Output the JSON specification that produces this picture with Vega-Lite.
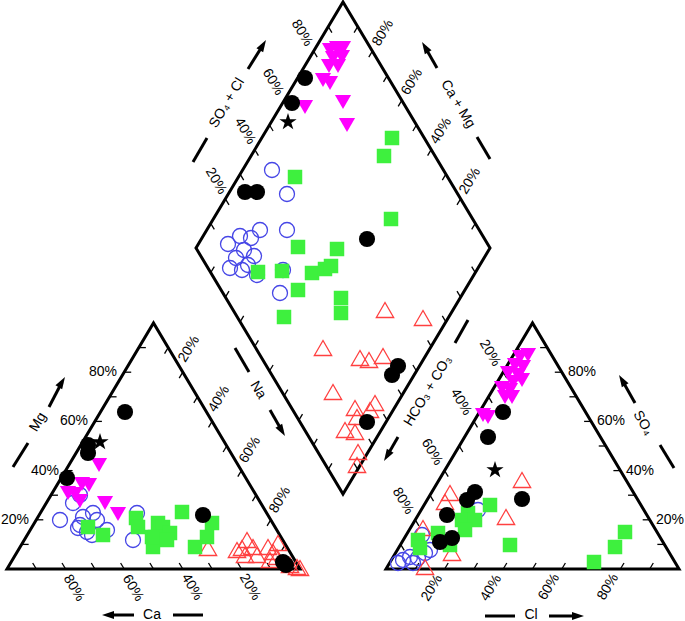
{
"$schema": "https://vega.github.io/schema/vega-lite/v6.json",
"width": 685, "height": 621,
"autosize": {"type": "none"},
"padding": 0,
"background": "white",
"config": {"view": {"stroke": null}, "text": {"font": "Liberation Sans", "fontSize": 14, "color": "black"}},
"datasets": {
"outline": [
{"part":"cation","i":0,"x":153.5,"y":569},{"part":"cation","i":1,"x":300,"y":569},{"part":"cation","i":2,"x":153.5,"y":323},{"part":"cation","i":3,"x":7,"y":569},{"part":"cation","i":4,"x":153.5,"y":569},
{"part":"anion","i":0,"x":532.5,"y":569},{"part":"anion","i":1,"x":679,"y":569},{"part":"anion","i":2,"x":532.5,"y":323},{"part":"anion","i":3,"x":386,"y":569},{"part":"anion","i":4,"x":532.5,"y":569},
{"part":"diamond","i":0,"x":269.5,"y":125},{"part":"diamond","i":1,"x":343,"y":2},{"part":"diamond","i":2,"x":490,"y":248},{"part":"diamond","i":3,"x":343,"y":494},{"part":"diamond","i":4,"x":196,"y":248},{"part":"diamond","i":5,"x":269.5,"y":125}
],
"ticks": [
{"x":36.3,"y":569,"x2":32.7,"y2":563},{"x":65.6,"y":569,"x2":62,"y2":563},{"x":94.9,"y":569,"x2":91.3,"y2":563},{"x":124.2,"y":569,"x2":120.6,"y2":563},{"x":153.5,"y":569,"x2":149.9,"y2":563},{"x":182.8,"y":569,"x2":179.2,"y2":563},{"x":212.1,"y":569,"x2":208.5,"y2":563},{"x":241.4,"y":569,"x2":237.8,"y2":563},{"x":270.7,"y":569,"x2":267.1,"y2":563},
{"x":21.65,"y":544.4,"x2":28.65,"y2":544.4},{"x":36.3,"y":519.8,"x2":43.3,"y2":519.8},{"x":50.95,"y":495.2,"x2":57.95,"y2":495.2},{"x":65.6,"y":470.6,"x2":72.6,"y2":470.6},{"x":80.25,"y":446,"x2":87.25,"y2":446},{"x":94.9,"y":421.4,"x2":101.9,"y2":421.4},{"x":109.55,"y":396.8,"x2":116.55,"y2":396.8},{"x":124.2,"y":372.2,"x2":131.2,"y2":372.2},{"x":138.85,"y":347.6,"x2":145.85,"y2":347.6},
{"x":285.35,"y":544.4,"x2":281.75,"y2":550.4},{"x":270.7,"y":519.8,"x2":267.1,"y2":525.8},{"x":256.05,"y":495.2,"x2":252.45,"y2":501.2},{"x":241.4,"y":470.6,"x2":237.8,"y2":476.6},{"x":226.75,"y":446,"x2":223.15,"y2":452},{"x":212.1,"y":421.4,"x2":208.5,"y2":427.4},{"x":197.45,"y":396.8,"x2":193.85,"y2":402.8},{"x":182.8,"y":372.2,"x2":179.2,"y2":378.2},{"x":168.15,"y":347.6,"x2":164.55,"y2":353.6},
{"x":415.3,"y":569,"x2":418.9,"y2":563},{"x":444.6,"y":569,"x2":448.2,"y2":563},{"x":473.9,"y":569,"x2":477.5,"y2":563},{"x":503.2,"y":569,"x2":506.8,"y2":563},{"x":532.5,"y":569,"x2":536.1,"y2":563},{"x":561.8,"y":569,"x2":565.4,"y2":563},{"x":591.1,"y":569,"x2":594.7,"y2":563},{"x":620.4,"y":569,"x2":624,"y2":563},{"x":649.7,"y":569,"x2":653.3,"y2":563},
{"x":400.65,"y":544.4,"x2":404.25,"y2":550.4},{"x":415.3,"y":519.8,"x2":418.9,"y2":525.8},{"x":429.95,"y":495.2,"x2":433.55,"y2":501.2},{"x":444.6,"y":470.6,"x2":448.2,"y2":476.6},{"x":459.25,"y":446,"x2":462.85,"y2":452},{"x":473.9,"y":421.4,"x2":477.5,"y2":427.4},{"x":488.55,"y":396.8,"x2":492.15,"y2":402.8},{"x":503.2,"y":372.2,"x2":506.8,"y2":378.2},{"x":517.85,"y":347.6,"x2":521.45,"y2":353.6},
{"x":664.35,"y":544.4,"x2":657.35,"y2":544.4},{"x":649.7,"y":519.8,"x2":642.7,"y2":519.8},{"x":635.05,"y":495.2,"x2":628.05,"y2":495.2},{"x":620.4,"y":470.6,"x2":613.4,"y2":470.6},{"x":605.75,"y":446,"x2":598.75,"y2":446},{"x":591.1,"y":421.4,"x2":584.1,"y2":421.4},{"x":576.45,"y":396.8,"x2":569.45,"y2":396.8},{"x":561.8,"y":372.2,"x2":554.8,"y2":372.2},{"x":547.15,"y":347.6,"x2":540.15,"y2":347.6},
{"x":210.7,"y":223.4,"x2":214.3,"y2":229.4},{"x":225.4,"y":198.8,"x2":229,"y2":204.8},{"x":240.1,"y":174.2,"x2":243.7,"y2":180.2},{"x":254.8,"y":149.6,"x2":258.4,"y2":155.6},{"x":269.5,"y":125,"x2":273.1,"y2":131},{"x":284.2,"y":100.4,"x2":287.8,"y2":106.4},{"x":298.9,"y":75.8,"x2":302.5,"y2":81.8},{"x":313.6,"y":51.2,"x2":317.2,"y2":57.2},{"x":328.3,"y":26.6,"x2":331.9,"y2":32.6},
{"x":475.3,"y":223.4,"x2":471.7,"y2":229.4},{"x":460.6,"y":198.8,"x2":457,"y2":204.8},{"x":445.9,"y":174.2,"x2":442.3,"y2":180.2},{"x":431.2,"y":149.6,"x2":427.6,"y2":155.6},{"x":416.5,"y":125,"x2":412.9,"y2":131},{"x":401.8,"y":100.4,"x2":398.2,"y2":106.4},{"x":387.1,"y":75.8,"x2":383.5,"y2":81.8},{"x":372.4,"y":51.2,"x2":368.8,"y2":57.2},{"x":357.7,"y":26.6,"x2":354.1,"y2":32.6},
{"x":210.7,"y":272.6,"x2":214.3,"y2":266.6},{"x":225.4,"y":297.2,"x2":229,"y2":291.2},{"x":240.1,"y":321.8,"x2":243.7,"y2":315.8},{"x":254.8,"y":346.4,"x2":258.4,"y2":340.4},{"x":269.5,"y":371,"x2":273.1,"y2":365},{"x":284.2,"y":395.6,"x2":287.8,"y2":389.6},{"x":298.9,"y":420.2,"x2":302.5,"y2":414.2},{"x":313.6,"y":444.8,"x2":317.2,"y2":438.8},{"x":328.3,"y":469.4,"x2":331.9,"y2":463.4},
{"x":475.3,"y":272.6,"x2":471.7,"y2":266.6},{"x":460.6,"y":297.2,"x2":457,"y2":291.2},{"x":445.9,"y":321.8,"x2":442.3,"y2":315.8},{"x":431.2,"y":346.4,"x2":427.6,"y2":340.4},{"x":416.5,"y":371,"x2":412.9,"y2":365},{"x":401.8,"y":395.6,"x2":398.2,"y2":389.6},{"x":387.1,"y":420.2,"x2":383.5,"y2":414.2},{"x":372.4,"y":444.8,"x2":368.8,"y2":438.8},{"x":357.7,"y":469.4,"x2":354.1,"y2":463.4}
],
"strokes": [
{"x":49,"y":407,"x2":62,"y2":382},{"x":248,"y":69,"x2":263,"y2":45},{"x":437,"y":68,"x2":425,"y2":47},{"x":270,"y":410,"x2":282,"y2":431},{"x":398,"y":437,"x2":387,"y2":456},{"x":635,"y":403,"x2":622,"y2":380},{"x":134,"y":615,"x2":108,"y2":615},{"x":549,"y":616,"x2":578,"y2":616},
{"x":13,"y":467,"x2":28,"y2":443},{"x":173,"y":615,"x2":203,"y2":615},{"x":485,"y":616,"x2":515,"y2":616},{"x":660,"y":445,"x2":674,"y2":468},{"x":193,"y":162,"x2":207,"y2":138},{"x":477,"y":137,"x2":490,"y2":159},{"x":235,"y":348,"x2":249,"y2":372},{"x":455,"y":343,"x2":468,"y2":320}
],
"heads": [
{"x":61.9,"y":382.1,"bearing":31},{"x":262.9,"y":45.1,"bearing":31},{"x":425.1,"y":47.1,"bearing":329},{"x":281.9,"y":430.9,"bearing":149},{"x":387.1,"y":455.9,"bearing":211},{"x":622.1,"y":380.1,"bearing":329},{"x":108,"y":615,"bearing":270},{"x":578,"y":616,"bearing":90}
],
"labels": [
{"kind":"right","text":"80%","x":117,"y":372},{"kind":"right","text":"60%","x":88,"y":421},{"kind":"right","text":"40%","x":59,"y":471},{"kind":"right","text":"20%","x":29,"y":520},
{"kind":"left","text":"80%","x":568,"y":372},{"kind":"left","text":"60%","x":597,"y":421},{"kind":"left","text":"40%","x":626,"y":471},{"kind":"left","text":"20%","x":656,"y":520},
{"kind":"down","text":"80%","x":74,"y":588},{"kind":"down","text":"60%","x":133,"y":588},{"kind":"down","text":"40%","x":192,"y":587},{"kind":"down","text":"20%","x":250,"y":587},
{"kind":"down","text":"20%","x":490,"y":353},{"kind":"down","text":"40%","x":461,"y":402},{"kind":"down","text":"60%","x":432,"y":452},{"kind":"down","text":"80%","x":403,"y":501},
{"kind":"down","text":"80%","x":302,"y":33},{"kind":"down","text":"60%","x":273,"y":82},{"kind":"down","text":"40%","x":245,"y":131},{"kind":"down","text":"20%","x":216,"y":181},
{"kind":"down","text":"Ca + Mg","x":458,"y":104},{"kind":"down","text":"Na","x":258,"y":390},{"kind":"down","text":"SO₄","x":643,"y":423},
{"kind":"up","text":"20%","x":189,"y":349},{"kind":"up","text":"40%","x":219,"y":399},{"kind":"up","text":"60%","x":250,"y":450},{"kind":"up","text":"80%","x":280,"y":500},
{"kind":"up","text":"20%","x":432,"y":588},{"kind":"up","text":"40%","x":491,"y":588},{"kind":"up","text":"60%","x":549,"y":587},{"kind":"up","text":"80%","x":608,"y":587},
{"kind":"up","text":"80%","x":383,"y":33},{"kind":"up","text":"60%","x":412,"y":82},{"kind":"up","text":"40%","x":441,"y":131},{"kind":"up","text":"20%","x":470,"y":181},
{"kind":"up","text":"SO₄ + Cl","x":227,"y":103},{"kind":"up","text":"HCO₃ + CO₃","x":428,"y":391},{"kind":"up","text":"Mg","x":38,"y":422},
{"kind":"flat","text":"Ca","x":152,"y":615},{"kind":"flat","text":"Cl","x":531,"y":615}
],
"samples": [
{"group":"Group 1","x":272,"y":170},{"group":"Group 1","x":287,"y":194},{"group":"Group 1","x":260,"y":230},{"group":"Group 1","x":287,"y":230},{"group":"Group 1","x":240,"y":236},{"group":"Group 1","x":251,"y":238},{"group":"Group 1","x":228,"y":244},{"group":"Group 1","x":244,"y":250},{"group":"Group 1","x":254,"y":256},{"group":"Group 1","x":236,"y":258},{"group":"Group 1","x":248,"y":265},{"group":"Group 1","x":230,"y":268},{"group":"Group 1","x":242,"y":270},{"group":"Group 1","x":283,"y":270},{"group":"Group 1","x":257,"y":275},{"group":"Group 1","x":280,"y":293},
{"group":"Group 1","x":60,"y":520},{"group":"Group 1","x":73,"y":503},{"group":"Group 1","x":80,"y":495},{"group":"Group 1","x":83,"y":517},{"group":"Group 1","x":93,"y":513},{"group":"Group 1","x":97,"y":520},{"group":"Group 1","x":78,"y":528},{"group":"Group 1","x":87,"y":532},{"group":"Group 1","x":92,"y":535},{"group":"Group 1","x":107,"y":530},{"group":"Group 1","x":133,"y":540},{"group":"Group 1","x":137,"y":513},{"group":"Group 1","x":80,"y":525},
{"group":"Group 1","x":403,"y":560},{"group":"Group 1","x":410,"y":557},{"group":"Group 1","x":418,"y":558},{"group":"Group 1","x":425,"y":553},{"group":"Group 1","x":430,"y":550},{"group":"Group 1","x":413,"y":563},{"group":"Group 1","x":422,"y":535},{"group":"Group 1","x":398,"y":563},{"group":"Group 1","x":478,"y":510},
{"group":"Group 2","x":385,"y":310},{"group":"Group 2","x":423,"y":318},{"group":"Group 2","x":323,"y":348},{"group":"Group 2","x":360,"y":358},{"group":"Group 2","x":369,"y":360},{"group":"Group 2","x":383,"y":356},{"group":"Group 2","x":333,"y":392},{"group":"Group 2","x":355,"y":408},{"group":"Group 2","x":375,"y":403},{"group":"Group 2","x":370,"y":410},{"group":"Group 2","x":357,"y":417},{"group":"Group 2","x":345,"y":430},{"group":"Group 2","x":355,"y":432},{"group":"Group 2","x":358,"y":452},{"group":"Group 2","x":357,"y":465},
{"group":"Group 2","x":208,"y":548},{"group":"Group 2","x":247,"y":540},{"group":"Group 2","x":242,"y":548},{"group":"Group 2","x":253,"y":547},{"group":"Group 2","x":237,"y":550},{"group":"Group 2","x":245,"y":555},{"group":"Group 2","x":257,"y":555},{"group":"Group 2","x":268,"y":547},{"group":"Group 2","x":278,"y":543},{"group":"Group 2","x":273,"y":552},{"group":"Group 2","x":270,"y":560},{"group":"Group 2","x":277,"y":557},{"group":"Group 2","x":297,"y":567},{"group":"Group 2","x":290,"y":565},{"group":"Group 2","x":300,"y":568},
{"group":"Group 2","x":522,"y":480},{"group":"Group 2","x":450,"y":493},{"group":"Group 2","x":445,"y":502},{"group":"Group 2","x":506,"y":517},{"group":"Group 2","x":423,"y":528},{"group":"Group 2","x":452,"y":553},{"group":"Group 2","x":425,"y":567},
{"group":"Group 3","x":295,"y":177},{"group":"Group 3","x":392,"y":138},{"group":"Group 3","x":384,"y":156},{"group":"Group 3","x":391,"y":219},{"group":"Group 3","x":298,"y":247},{"group":"Group 3","x":337,"y":249},{"group":"Group 3","x":258,"y":272},{"group":"Group 3","x":282,"y":271},{"group":"Group 3","x":312,"y":273},{"group":"Group 3","x":325,"y":269},{"group":"Group 3","x":331,"y":266},{"group":"Group 3","x":298,"y":290},{"group":"Group 3","x":341,"y":298},{"group":"Group 3","x":341,"y":313},{"group":"Group 3","x":284,"y":317},
{"group":"Group 3","x":88,"y":527},{"group":"Group 3","x":103,"y":535},{"group":"Group 3","x":136,"y":518},{"group":"Group 3","x":138,"y":527},{"group":"Group 3","x":152,"y":537},{"group":"Group 3","x":153,"y":547},{"group":"Group 3","x":158,"y":523},{"group":"Group 3","x":182,"y":512},{"group":"Group 3","x":163,"y":527},{"group":"Group 3","x":170,"y":533},{"group":"Group 3","x":155,"y":537},{"group":"Group 3","x":167,"y":540},{"group":"Group 3","x":212,"y":523},{"group":"Group 3","x":207,"y":537},{"group":"Group 3","x":195,"y":547},
{"group":"Group 3","x":490,"y":505},{"group":"Group 3","x":468,"y":513},{"group":"Group 3","x":462,"y":520},{"group":"Group 3","x":475,"y":520},{"group":"Group 3","x":465,"y":530},{"group":"Group 3","x":438,"y":533},{"group":"Group 3","x":418,"y":540},{"group":"Group 3","x":420,"y":548},{"group":"Group 3","x":510,"y":545},{"group":"Group 3","x":450,"y":545},{"group":"Group 3","x":625,"y":532},{"group":"Group 3","x":615,"y":547},{"group":"Group 3","x":594,"y":562},
{"group":"Group 4","x":330,"y":50},{"group":"Group 4","x":337,"y":48},{"group":"Group 4","x":343,"y":48},{"group":"Group 4","x":333,"y":58},{"group":"Group 4","x":342,"y":57},{"group":"Group 4","x":338,"y":66},{"group":"Group 4","x":329,"y":66},{"group":"Group 4","x":323,"y":80},{"group":"Group 4","x":330,"y":83},{"group":"Group 4","x":305,"y":107},{"group":"Group 4","x":343,"y":102},{"group":"Group 4","x":347,"y":125},
{"group":"Group 4","x":99,"y":465},{"group":"Group 4","x":82,"y":484},{"group":"Group 4","x":89,"y":485},{"group":"Group 4","x":68,"y":493},{"group":"Group 4","x":75,"y":494},{"group":"Group 4","x":80,"y":501},{"group":"Group 4","x":105,"y":503},{"group":"Group 4","x":118,"y":514},
{"group":"Group 4","x":520,"y":357},{"group":"Group 4","x":528,"y":355},{"group":"Group 4","x":515,"y":365},{"group":"Group 4","x":523,"y":367},{"group":"Group 4","x":508,"y":373},{"group":"Group 4","x":518,"y":375},{"group":"Group 4","x":513,"y":382},{"group":"Group 4","x":522,"y":380},{"group":"Group 4","x":502,"y":388},{"group":"Group 4","x":510,"y":390},{"group":"Group 4","x":505,"y":397},{"group":"Group 4","x":512,"y":397},{"group":"Group 4","x":483,"y":415},{"group":"Group 4","x":488,"y":417},
{"group":"Group 5","x":305,"y":78},{"group":"Group 5","x":292,"y":103},{"group":"Group 5","x":245,"y":192},{"group":"Group 5","x":257,"y":192},{"group":"Group 5","x":367,"y":239},{"group":"Group 5","x":392,"y":375},{"group":"Group 5","x":398,"y":366},{"group":"Group 5","x":367,"y":422},
{"group":"Group 5","x":125,"y":412},{"group":"Group 5","x":88,"y":445},{"group":"Group 5","x":88,"y":453},{"group":"Group 5","x":67,"y":478},{"group":"Group 5","x":203,"y":515},{"group":"Group 5","x":283,"y":562},{"group":"Group 5","x":286,"y":565},
{"group":"Group 5","x":503,"y":412},{"group":"Group 5","x":488,"y":437},{"group":"Group 5","x":475,"y":492},{"group":"Group 5","x":467,"y":500},{"group":"Group 5","x":522,"y":499},{"group":"Group 5","x":447,"y":515},{"group":"Group 5","x":452,"y":538},{"group":"Group 5","x":440,"y":542},
{"group":"Group 6","x":288,"y":122},{"group":"Group 6","x":100,"y":442},{"group":"Group 6","x":495,"y":470}
]
},
"encoding": {
"x": {"field": "x", "type": "quantitative", "scale": {"domain": [0, 685], "nice": false, "zero": false}, "axis": null},
"y": {"field": "y", "type": "quantitative", "scale": {"domain": [0, 621], "nice": false, "zero": false, "reverse": true}, "axis": null}
},
"layer": [
{"data": {"name": "outline"}, "mark": {"type": "line", "color": "black", "strokeWidth": 3, "strokeJoin": "miter", "strokeMiterLimit": 10}, "encoding": {"detail": {"field": "part", "type": "nominal"}, "order": {"field": "i", "type": "quantitative"}}},
{"data": {"name": "ticks"}, "mark": {"type": "rule", "color": "black", "strokeWidth": 1.3}, "encoding": {"x2": {"field": "x2"}, "y2": {"field": "y2"}}},
{"data": {"name": "strokes"}, "mark": {"type": "rule", "color": "black", "strokeWidth": 3}, "encoding": {"x2": {"field": "x2"}, "y2": {"field": "y2"}}},
{"data": {"name": "heads"}, "mark": {"type": "point", "shape": "M0,-1L0.65,1L-0.65,1Z", "filled": true, "color": "black", "size": 144, "opacity": 1}, "encoding": {"angle": {"field": "bearing", "type": "quantitative", "scale": {"domain": [0, 360], "range": [0, 360]}}}},
{"data": {"name": "labels"}, "transform": [{"filter": "datum.kind === 'right'"}], "mark": {"type": "text", "align": "right", "baseline": "middle"}, "encoding": {"text": {"field": "text"}}},
{"data": {"name": "labels"}, "transform": [{"filter": "datum.kind === 'left'"}], "mark": {"type": "text", "align": "left", "baseline": "middle"}, "encoding": {"text": {"field": "text"}}},
{"data": {"name": "labels"}, "transform": [{"filter": "datum.kind === 'down'"}], "mark": {"type": "text", "align": "center", "baseline": "middle", "angle": 59}, "encoding": {"text": {"field": "text"}}},
{"data": {"name": "labels"}, "transform": [{"filter": "datum.kind === 'up'"}], "mark": {"type": "text", "align": "center", "baseline": "middle", "angle": 301}, "encoding": {"text": {"field": "text"}}},
{"data": {"name": "labels"}, "transform": [{"filter": "datum.kind === 'flat'"}], "mark": {"type": "text", "align": "center", "baseline": "middle"}, "encoding": {"text": {"field": "text"}}},
{"data": {"name": "samples"}, "transform": [{"filter": "datum.group === 'Group 1'"}], "mark": {"type": "point", "shape": "circle", "filled": false, "color": "#4646E6", "strokeWidth": 1.3, "size": 225, "opacity": 1}},
{"data": {"name": "samples"}, "transform": [{"filter": "datum.group === 'Group 2'"}], "mark": {"type": "point", "shape": "triangle-up", "filled": false, "color": "#FF4040", "strokeWidth": 1.3, "size": 300, "opacity": 1}},
{"data": {"name": "samples"}, "transform": [{"filter": "datum.group === 'Group 3'"}], "mark": {"type": "point", "shape": "square", "filled": true, "color": "#3EF03E", "size": 210, "opacity": 1}},
{"data": {"name": "samples"}, "transform": [{"filter": "datum.group === 'Group 4'"}], "mark": {"type": "point", "shape": "triangle-down", "filled": true, "color": "#FF00FF", "size": 260, "opacity": 1}},
{"data": {"name": "samples"}, "transform": [{"filter": "datum.group === 'Group 5'"}], "mark": {"type": "point", "shape": "circle", "filled": true, "color": "black", "size": 260, "opacity": 1}},
{"data": {"name": "samples"}, "transform": [{"filter": "datum.group === 'Group 6'"}], "mark": {"type": "point", "shape": "M0,-1L0.225,-0.309L0.951,-0.309L0.363,0.118L0.588,0.809L0,0.382L-0.588,0.809L-0.363,0.118L-0.951,-0.309L-0.225,-0.309Z", "filled": true, "color": "black", "size": 330, "opacity": 1}}
]
}
